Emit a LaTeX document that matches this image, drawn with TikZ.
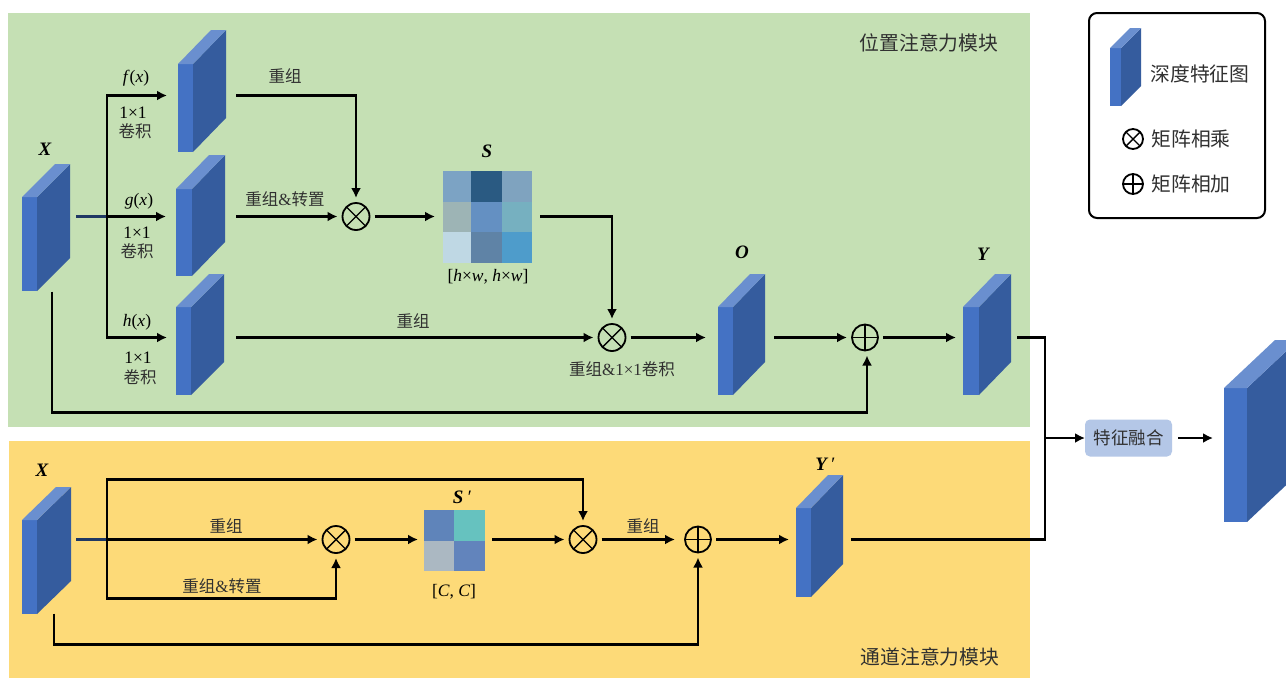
\documentclass[tikz,border=0pt]{standalone}
\usepackage{fontspec}
\setmainfont{Liberation Serif}
\newfontfamily\cjk{Noto Sans CJK SC}
\usetikzlibrary{arrows.meta,calc}
\definecolor{cfront}{HTML}{4472C4}
\definecolor{cside}{HTML}{355C9E}
\definecolor{ctop}{HTML}{6A8FCF}
\definecolor{cgreen}{HTML}{C5E0B4}
\definecolor{cyellow}{HTML}{FDDA78}
\definecolor{cnavy}{HTML}{1F3864}
\definecolor{ctext}{HTML}{303030}
\definecolor{cfeat}{HTML}{B4C7E7}
\definecolor{sa}{HTML}{7CA3C4}
\definecolor{sb}{HTML}{2A5A82}
\definecolor{sc}{HTML}{7FA3BF}
\definecolor{sd}{HTML}{9DB4B5}
\definecolor{se}{HTML}{6490C2}
\definecolor{sf}{HTML}{76B0C0}
\definecolor{sg}{HTML}{BFD8E4}
\definecolor{sh}{HTML}{5F83A6}
\definecolor{si}{HTML}{4E9CCB}
\definecolor{ta}{HTML}{5F84BA}
\definecolor{tb}{HTML}{66C2BF}
\definecolor{tc}{HTML}{ABB8C2}
\definecolor{td}{HTML}{6284BC}
\newcommand{\amp}{{\rmfamily\fontsize{17}{18}\selectfont\&}}
\newcommand{\onebyone}{{\rmfamily\fontsize{17}{18}\selectfont 1×1}}
\tikzset{
  x=1pt,y=-1pt,
  link/.style={line width=2.2pt,draw=black,line join=miter},
  arrow/.style={link,-{Latex[length=10pt,width=10pt]}},
  port/.style={inner sep=0,outer sep=0,minimum height=#1},
  lbl/.style={inner sep=0,text=ctext,font=\fontsize{16.5}{18}\selectfont\cjk},
  lat/.style={inner sep=0,text=black,font=\fontsize{17.5}{18}\selectfont},
  var/.style={inner sep=0,text=black,font=\fontsize{19}{20}\selectfont\bfseries\itshape},
  tit/.style={inner sep=0,text=ctext,font=\fontsize{19.8}{22}\selectfont\cjk},
  otimes/.style={circle,draw=black,line width=1.8pt,minimum size=#1,inner sep=0,outer sep=5pt,
    path picture={\draw[line width=1.4pt]
      ($(path picture bounding box.center)+(45:20pt)$)--($(path picture bounding box.center)+(225:20pt)$)
      ($(path picture bounding box.center)+(135:20pt)$)--($(path picture bounding box.center)+(315:20pt)$);}},
  oplus/.style={circle,draw=black,line width=1.8pt,minimum size=#1,inner sep=0,outer sep=5pt,
    path picture={\draw[line width=1.4pt]
      ($(path picture bounding box.center)+(0:20pt)$)--($(path picture bounding box.center)+(180:20pt)$)
      ($(path picture bounding box.center)+(90:20pt)$)--($(path picture bounding box.center)+(270:20pt)$);}},
}
% #1 x-left, #2 x-split, #3 x-back, #4 y-front-top, #5 y-bottom, #6 y-back-top
\newcommand{\cubeshape}[6]{%
  \fill[cfront] (#1,#4) rectangle (#2,#5);
  \fill[cside] (#2,#4) -- (#3,#6) -- (#3,#5-#4+#6) -- (#2,#5) -- cycle;
  \fill[ctop] (#1,#4) -- (#3-#2+#1,#6) -- (#3,#6) -- (#2,#4) -- cycle;
}
\newcommand{\cell}[5]{\fill[#5] (#1,#2) rectangle (#3,#4);}
\begin{document}
\begin{tikzpicture}
\useasboundingbox (0,0) rectangle (1286,678);
\fill[white] (0,0) rectangle (1286,678);
\fill[cgreen] (8,13) rectangle (1030,427);
\fill[cyellow] (9,441) rectangle (1030,678);

% cubes
\cubeshape{22}{37}{70}{197}{291}{164}
\cubeshape{178}{193}{226}{64}{152}{30}
\cubeshape{176}{192}{225}{189}{276}{155}
\cubeshape{176}{191}{224}{307}{395}{274}
\cubeshape{718}{733}{765}{307}{395}{274}
\cubeshape{963}{979}{1011}{307}{395}{274}
\cubeshape{22}{37}{71}{520}{614}{487}
\cubeshape{796}{811}{843}{508}{597}{475}
\begin{scope}
\clip (1200,300) rectangle (1286,560);
\cubeshape{1224}{1247}{1298}{388}{522}{340}
\end{scope}
\cubeshape{1110}{1121}{1141}{48}{106}{28}

% hidden ports of cubes: west/east/south give connector ends
\node[port=150pt,minimum width=48pt] (X) at (52,216.5) {};
\node[port=2pt,minimum width=69pt] (F) at (201.5,95.5) {};
\node[port=2pt,minimum width=70pt] (G) at (201,216.5) {};
\node[port=2pt,minimum width=69pt] (H) at (201.5,337.5) {};
\node[port=2pt,minimum width=68pt] (O) at (740,337.5) {};
\node[port=2pt,minimum width=61pt] (Y) at (986.5,337.5) {};
\node[port=148pt,minimum width=44pt] (X2) at (54,539.5) {};
\node[port=2pt,minimum width=62pt] (Y2) at (820,539.5) {};
\node[port=2pt,minimum width=10pt] (Z) at (1218,438) {};

% matrices
\cell{443}{171}{471}{202}{sa}\cell{471}{171}{502}{202}{sb}\cell{502}{171}{532}{202}{sc}
\cell{443}{202}{471}{232}{sd}\cell{471}{202}{502}{232}{se}\cell{502}{202}{532}{232}{sf}
\cell{443}{232}{471}{263}{sg}\cell{471}{232}{502}{263}{sh}\cell{502}{232}{532}{263}{si}
\node[port=2pt,minimum width=105pt] (S) at (487.5,216.5) {};
\cell{424}{510}{454}{541}{ta}\cell{454}{510}{485}{541}{tb}
\cell{424}{541}{454}{571}{tc}\cell{454}{541}{485}{571}{td}
\node[port=2pt,minimum width=74pt] (S2) at (455,539.5) {};

% operators
\node[otimes=27pt] (m1) at (356,216.5) {};
\node[otimes=27pt] (m2) at (612,337.5) {};
\node[oplus=26pt] (p1) at (865,337.5) {};
\node[otimes=27pt] (m3) at (336,539.5) {};
\node[otimes=27pt] (m4) at (583,539.5) {};
\node[oplus=26pt] (p2) at (698,539.5) {};
\node[otimes=20pt] (lm) at (1133,139) {};
\node[oplus=20pt] (lp) at (1133,184) {};

% fusion box
\node[fill=cfeat,rounded corners=5pt,minimum width=87pt,minimum height=37pt,inner sep=0,outer sep=0,
  text=ctext,font=\fontsize{17.5}{20}\selectfont\cjk] (fuse) at (1128.5,438) {特征融合};

% legend box
\node[draw=black,line width=2pt,rounded corners=8pt,minimum width=176pt,minimum height=205pt,inner sep=0] (legend) at (1177,115.5) {};

% junction coordinates
\coordinate (ja) at (107,216.5);
\coordinate (jb) at (107,539.5);
\coordinate (jc) at (1045,438);

% upper connectors
\draw[line width=2.2pt,cnavy] (X.east |- G) -- (ja);
\draw[arrow] (ja) -- (G.west);
\draw[arrow] (ja) |- (F.west);
\draw[arrow] (ja) |- (H.west);
\draw[arrow] (F.east) -| (m1.north);
\draw[arrow] (G.east) -- (m1.west);
\draw[arrow] (m1.east) -- (S.west);
\draw[arrow] (S.east) -| (m2.north);
\draw[arrow] (H.east) -- (m2.west);
\draw[arrow] (m2.east) -- (O.west);
\draw[arrow] (O.east) -- (p1.west);
\draw[arrow] (p1.east) -- (Y.west);
\draw[arrow] (X.south) |- (867,412.5) -- (p1.south -| 867,0);

% lower connectors
\draw[line width=2.2pt,cnavy] (X2.east) -- (jb);
\draw[arrow] (jb) -- (m3.west);
\draw[arrow] (jb) -- (107,479.5) -| (m4.north);
\draw[arrow] (jb) -- (107,598.5) -| (m3.south);
\draw[arrow] (m3.east) -- (S2.west);
\draw[arrow] (S2.east) -- (m4.west);
\draw[arrow] (m4.east) -- ([xshift=-5pt]p2.west);
\draw[arrow] (p2.east) -- (Y2.west);
\draw[arrow] (X2.south) |- (698,644.5) -- (p2.south);

% fusion connectors
\draw[link] (Y.east) -| (jc);
\draw[link] (Y2.east) -| (jc);
\draw[arrow] (jc) -- (fuse.west);
\draw[arrow] (fuse.east) ++(6,0) -- (Z.west);

% labels
\node[var] (lx) at (45,149) {X};
\node[lat] (lf) at (136,78) {\textit{f}(\textit{x})};
\node[lat] (lf1) at (133,113) {1×1};
\node[lbl] (lf2) at (135,131) {卷积};
\node[lat] (lg) at (139,201) {\textit{g}(\textit{x})};
\node[lat] (lg1) at (137,233) {1×1};
\node[lbl] (lg2) at (137,251) {卷积};
\node[lat] (lh) at (137,322) {\textit{h}(\textit{x})};
\node[lat] (lh1) at (138,358) {1×1};
\node[lbl] (lh2) at (140,377) {卷积};
\node[lbl] (t1) at (285,76) {重组};
\node[lbl] (t2) at (285,199) {重组\amp 转置};
\node[var] (ls) at (487,151) {S};
\node[lat] (lsz) at (488,277) {[\textit{h}×\textit{w}, \textit{h}×\textit{w}]};
\node[lbl] (t3) at (413,321) {重组};
\node[lbl] (t4) at (622,369) {重组\amp\onebyone 卷积};
\node[var] (lo) at (742,252) {O};
\node[var] (ly) at (983,254) {Y};
\node[tit] (tp) at (929,43) {位置注意力模块};
\node[var] (lx2) at (42,470) {X};
\node[lbl] (t5) at (226,526) {重组};
\node[lbl] (t6) at (222,586) {重组\amp 转置};
\node[var] (ls2) at (462,497) {S\,\normalfont\textit{′}};
\node[lat] (lc) at (454,592) {[\textit{C}, \textit{C}]};
\node[lbl] (t7) at (643,526) {重组};
\node[var] (ly2) at (825,464) {Y\,\normalfont\textit{′}};
\node[tit] (tc) at (930,657) {通道注意力模块};
\node[tit] (l1) at (1200,74) {深度特征图};
\node[tit] (l2) at (1191,139) {矩阵相乘};
\node[tit] (l3) at (1191,184) {矩阵相加};
\end{tikzpicture}
\end{document}
